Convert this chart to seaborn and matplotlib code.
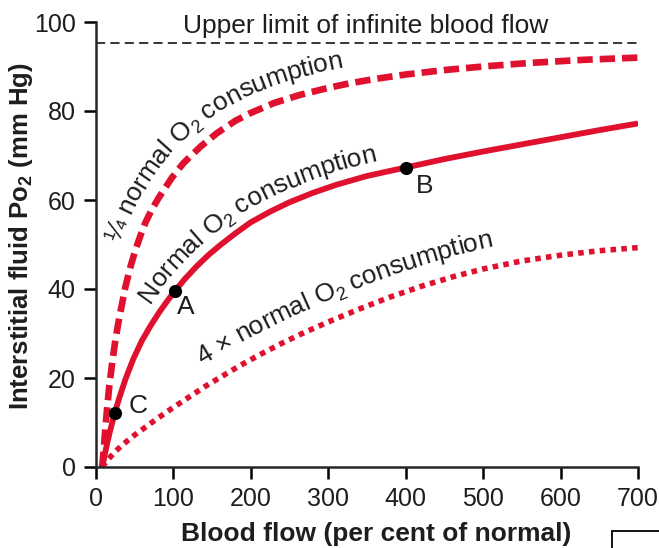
import numpy as np
import pandas as pd
import seaborn as sns
import matplotlib.pyplot as plt
from matplotlib.patches import Rectangle
from matplotlib.font_manager import FontProperties, findfont, get_font

# interstitial fluid PO2 (mm Hg) against blood flow (% of normal)
flow_normal = [8, 11, 14, 18, 24, 30, 38, 48, 59, 70, 81, 92, 102, 115, 130, 145, 160, 180, 200,
               225, 250, 280, 310, 350, 400, 450, 500, 550, 600, 650, 700]
po2_normal = [0, 2.5, 5, 8, 12, 15.5, 19.7, 24.2, 28.3, 31.6, 34.6, 37.3, 39.6, 42.3, 45.1, 47.6, 49.8,
              52.5, 55, 57.4, 59.5, 61.6, 63.4, 65.4, 67.3, 69.2, 70.9, 72.5, 74.1, 75.7, 77.2]

flow_quarter = [8, 10, 12, 14, 17, 21, 25, 30, 38, 45, 51, 58, 64, 72, 81, 98, 113, 135, 156, 180,
                199, 230, 263, 300, 327, 360, 400, 450, 500, 560, 630, 700]
po2_quarter = [0, 4, 8.5, 12.5, 18, 23.5, 28.5, 33.5, 40.5, 45.3, 48.8, 52.3, 55, 57.8, 60.5, 65, 68.3,
               72, 75, 77.8, 79.5, 81.8, 83.6, 85.2, 86.2, 87.2, 88.2, 89.2, 90, 90.8, 91.5, 92]

flow_4x = [8, 15, 25, 35, 50, 65, 80, 100, 120, 140, 160, 185, 210, 240, 270, 300, 340, 380, 420,
           460, 500, 550, 600, 650, 700]
po2_4x = [0, 1.6, 3.5, 5.1, 7.2, 9.1, 11, 13.4, 15.7, 18, 20.1, 22.7, 25.1, 27.8, 30.3, 32.6, 35.5,
          38.2, 40.6, 42.7, 44.5, 46.3, 47.6, 48.6, 49.3]

upper_limit = 95.3

point_names = ['A', 'B', 'C']
point_flow = [102, 401, 25]
point_po2 = [39.6, 67.3, 12.2]

RED = '#E0102F'
TEXT = '#1e1e1e'


def curve_text(ax, xs, ys, x_start, parts, offset, size=19):
    # write text along a curve, baseline kept `offset` px to the upper-left of it
    fig = ax.figure
    ppx = fig.dpi / 72
    font = get_font(findfont(FontProperties(family='Liberation Sans')), hinting_factor=1)
    pts = ax.transData.transform(np.column_stack([xs, ys]))
    arc = np.concatenate([[0], np.cumsum(np.hypot(np.diff(pts[:, 0]), np.diff(pts[:, 1])))])
    fine = np.linspace(0, arc[-1], 3000)
    bx = np.interp(fine, arc, pts[:, 0])
    by = np.interp(fine, arc, pts[:, 1])
    k = 80
    ang = np.unwrap(np.arctan2(np.gradient(by), np.gradient(bx)))
    ang = np.convolve(np.pad(ang, k, mode='edge'), np.ones(2 * k + 1) / (2 * k + 1), mode='valid')
    ox = bx - np.sin(ang) * offset
    oy = by + np.cos(ang) * offset
    oarc = np.concatenate([[0], np.cumsum(np.hypot(np.diff(ox), np.diff(oy)))])
    start = ax.transData.transform((x_start, np.interp(x_start, xs, ys)))[0]
    s = np.interp(start, bx, oarc)
    inv = ax.transData.inverted()
    for txt, sub in parts:
        fs = size * 0.68 if sub else size
        drop = 0.2 * size * ppx if sub else 0
        font.set_size(fs, fig.dpi)
        for ch in txt:
            adv = font.load_char(ord(ch)).linearHoriAdvance / 65536
            mid = s + adv / 2
            a = np.interp(mid, oarc, ang)
            x = np.interp(mid, oarc, ox) + np.sin(a) * drop
            y = np.interp(mid, oarc, oy) - np.cos(a) * drop
            xd, yd = inv.transform((x, y))
            ax.text(xd, yd, ch, fontsize=fs, rotation=np.degrees(a), rotation_mode='anchor',
                    ha='center', va='baseline', color=TEXT, zorder=5)
            s += adv


sns.set_style('ticks')
plt.rcParams['font.family'] = ['Liberation Sans', 'DejaVu Sans']
plt.rcParams['mathtext.default'] = 'regular'

fig = plt.figure(figsize=(6.59, 5.48), dpi=100)
ax = fig.add_axes([96 / 659, 1 - 467 / 548, 542 / 659, 445 / 548])

sns.lineplot(x=flow_quarter, y=po2_quarter, ax=ax, color=RED, lw=4.8,
             linestyle=(0, (2.3, 1.05)), dash_capstyle='butt', legend=False)
sns.lineplot(x=flow_normal, y=po2_normal, ax=ax, color=RED, lw=4.2,
             solid_capstyle='butt', legend=False)
sns.lineplot(x=flow_4x, y=po2_4x, ax=ax, color=RED, lw=4.0,
             linestyle=(0, (1.0, 0.95)), dash_capstyle='butt', legend=False)
ax.axhline(upper_limit, color='black', lw=1.1, linestyle=(0, (6, 3.4)))

pts = pd.DataFrame({'name': point_names, 'flow': point_flow, 'po2': point_po2})
sns.scatterplot(data=pts, x='flow', y='po2', ax=ax, color='black', s=90,
                linewidth=0, zorder=4, legend=False)

ax.set_xlim(0, 700)
ax.set_ylim(0, 100)
ax.set_xticks(range(0, 701, 100))
ax.set_yticks(range(0, 101, 20))
ax.tick_params(labelsize=18, length=8.5, width=1.8, pad=6, colors='black', labelcolor=TEXT)
for side in ['left', 'bottom']:
    ax.spines[side].set_linewidth(1.8)
sns.despine(ax=ax)

ax.set_xlabel('Blood flow (per cent of normal)', fontsize=19, fontweight='bold', color=TEXT)
ax.set_ylabel('Interstitial fluid Po$_2$ (mm Hg)', fontsize=18.5, fontweight='bold', color=TEXT)
ax.xaxis.set_label_coords(0.517, -0.123)
ax.yaxis.set_label_coords(-0.113, 0.52)

ax.text(348, 97.6, 'Upper limit of infinite blood flow', fontsize=19, ha='center',
        va='baseline', color=TEXT, clip_on=False)

label_offsets = {'A': (14, -3.6), 'B': (24, -4.2), 'C': (29, 1.6)}
for name, fx, py in zip(point_names, point_flow, point_po2):
    dx, dy = label_offsets[name]
    ax.text(fx + dx, py + dy, name, fontsize=19, ha='center', va='center', color=TEXT)

curve_text(ax, flow_quarter, po2_quarter, 52, [('\u00bc normal O', 0), ('2', 1), (' consumption', 0)], 17)
curve_text(ax, flow_normal, po2_normal, 83, [('Normal O', 0), ('2', 1), (' consumption', 0)], 13)
curve_text(ax, flow_4x, po2_4x, 151, [('4 \u00d7 normal O', 0), ('2', 1), (' consumption', 0)], 20)

fig.patches.append(Rectangle((612 / 659, -0.05), 0.2, 0.05 + 17 / 548, transform=fig.transFigure,
                             fill=False, edgecolor='black', lw=1.3))

fig.savefig('out.png', dpi=100)
